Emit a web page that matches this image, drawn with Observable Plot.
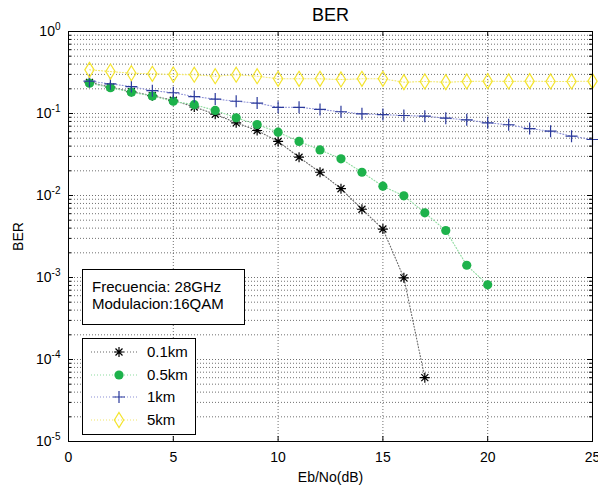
<!DOCTYPE html>
<html><head><meta charset="utf-8">
<script src="https://cdn.jsdelivr.net/npm/d3@7"></script>
<script src="https://cdn.jsdelivr.net/npm/@observablehq/plot@0.6"></script>
<style>
body{margin:0;background:#fff;font-family:"Liberation Sans",Arial,sans-serif;}
#wrap{position:relative;width:598px;height:485px;overflow:hidden;}
#wrap svg.plot{position:absolute;left:0;top:0;}
.box{position:absolute;background:#fff;border:1px solid #000;box-sizing:border-box;font-size:15px;color:#000;}
.row{position:absolute;left:0;height:20px;}
.row svg{position:absolute;left:0;top:0;}
.row span{position:absolute;left:64px;top:1px;white-space:nowrap;line-height:18px;}
.info span{position:absolute;left:9px;white-space:nowrap;line-height:18px;}
</style></head><body><div id="wrap"></div>
<script>
const title = "BER";
const xLabel = "Eb/No(dB)";
const yLabel = "BER";
const infoLines = ["Frecuencia: 28GHz", "Modulacion:16QAM"];

const seriesNames = ["0.1km", "0.5km", "1km", "5km"];
const markerColors = ["#000000", "#1db24b", "#2b3a9c", "#f4e42c"];
const lineColors = ["#666666", "#8edb9f", "#8c90d6", "#f1e66a"];

const ebnoBlack = [1,2,3,4,5,6,7,8,9,10,11,12,13,14,15,16,17];
const berBlack = [0.24,0.21,0.185,0.165,0.145,0.12,0.098,0.077,0.062,0.0456,0.0293,0.0192,0.0121,0.0068,0.0039,0.00099,0.00006];

const ebnoGreen = [1,2,3,4,5,6,7,8,9,10,11,12,13,14,15,16,17,18,19,20];
const berGreen = [0.234,0.206,0.182,0.163,0.141,0.128,0.109,0.0886,0.0734,0.0592,0.0456,0.036,0.028,0.0192,0.013,0.0099,0.00615,0.00374,0.00141,0.000814];

const ebnoBlue = [1,2,3,4,5,6,7,8,9,10,11,12,13,14,15,16,17,18,19,20,21,22,23,24,25];
const berBlue = [0.248,0.23,0.213,0.19,0.179,0.161,0.15,0.141,0.134,0.119,0.119,0.112,0.105,0.099,0.097,0.0945,0.0928,0.0877,0.0837,0.077,0.0729,0.0654,0.0608,0.0529,0.0482];

const ebnoYellow = [1,2,3,4,5,6,7,8,9,10,11,12,13,14,15,16,17,18,19,20,21,22,23,24,25];
const berYellow = [0.341,0.325,0.31,0.305,0.299,0.297,0.285,0.297,0.285,0.265,0.265,0.265,0.26,0.265,0.265,0.241,0.246,0.241,0.246,0.248,0.246,0.248,0.246,0.246,0.248];

const xTicks = [0, 5, 10, 15, 20, 25];
const xGridTicks = [5, 10, 15, 20];
const yTicks = [1e-5, 1e-4, 1e-3, 1e-2, 1e-1, 1];
const yTickLabels = ["10^-5", "10^-4", "10^-3", "10^-2", "10^-1", "10^0"];

// minor log grid values (2..9 within each decade)
const yMinor = [];
for (let i = 0; i < yTicks.length - 1; i++) for (let m = 2; m <= 9; m++) yMinor.push(yTicks[i] * m);

// custom symbols
const symAsterisk = {draw(c, size) {
  const r = Math.sqrt(size / Math.PI), d = r * 0.7;
  c.moveTo(-r, 0); c.lineTo(r, 0); c.moveTo(0, -r); c.lineTo(0, r);
  c.moveTo(-d, -d); c.lineTo(d, d); c.moveTo(-d, d); c.lineTo(d, -d);
}};
const symCircle = {draw(c, size) { const r = Math.sqrt(size / Math.PI); c.moveTo(r, 0); c.arc(0, 0, r, 0, 2 * Math.PI); }};
const symPlus = {draw(c, size) {
  const r = Math.sqrt(size / Math.PI);
  c.moveTo(-r, 0); c.lineTo(r, 0); c.moveTo(0, -r); c.lineTo(0, r);
}};
const symDiamond = {draw(c, size) {
  const r = Math.sqrt(size / Math.PI), w = r * 0.62;
  c.moveTo(0, -r); c.lineTo(w, 0); c.lineTo(0, r); c.lineTo(-w, 0); c.closePath();
}};
const symbols = [symAsterisk, symCircle, symPlus, symDiamond];
const radii = [5, 4.6, 6, 7.5];
const filled = [false, true, false, false];

const seriesX = [ebnoBlack, ebnoGreen, ebnoBlue, ebnoYellow];
const seriesY = [berBlack, berGreen, berBlue, berYellow];
const rows = seriesNames.map((name, i) => seriesX[i].map((x, j) => ({series: name, x, y: seriesY[i][j]})));

const W = 598, H = 485, mL = 68, mR = 6, mT = 31, mB = 44;
const innerW = W - mL - mR, innerH = H - mT - mB;

const marks = [
  Plot.gridY({ticks: yMinor.concat(yTicks.slice(1, -1)), stroke: "#333", strokeOpacity: 0.7, strokeDasharray: "1,2"}),
  Plot.gridX({ticks: xGridTicks, stroke: "#333", strokeOpacity: 0.7, strokeDasharray: "1,2"}),
];
seriesNames.forEach((name, i) => {
  marks.push(Plot.line(rows[i], {x: "x", y: "y", stroke: lineColors[i], strokeWidth: 1.1, strokeDasharray: "1,2"}));
});
seriesNames.forEach((name, i) => {
  marks.push(Plot.dot(rows[i], {x: "x", y: "y", symbol: symbols[i], r: radii[i],
    fill: filled[i] ? markerColors[i] : "none", stroke: filled[i] ? "none" : markerColors[i], strokeWidth: 1.2}));
});
marks.push(
  Plot.frame({stroke: "#000", strokeWidth: 1}),
  // inward ticks (MATLAB style)
  Plot.tickX(xTicks, {x: d => d, insetTop: innerH - 5, stroke: "#000"}),
  Plot.tickX(xTicks, {x: d => d, insetBottom: innerH - 5, stroke: "#000"}),
  Plot.tickY(yTicks, {y: d => d, insetRight: innerW - 5, stroke: "#000"}),
  Plot.tickY(yTicks, {y: d => d, insetLeft: innerW - 5, stroke: "#000"}),
  Plot.tickY(yMinor, {y: d => d, insetRight: innerW - 3, stroke: "#000"}),
  Plot.tickY(yMinor, {y: d => d, insetLeft: innerW - 3, stroke: "#000"}),
  Plot.axisX(xTicks, {tickSize: 0, tickPadding: 11, fontSize: 14, label: xLabel, labelAnchor: "center", labelArrow: "none", labelOffset: 40}),
  Plot.axisY(yTicks, {tickSize: 0, tickPadding: 8, fontSize: 14, tickFormat: (d, i) => yTickLabels[yTicks.indexOf(d)], label: yLabel, labelAnchor: "center", labelArrow: "none", labelOffset: 55}),
  Plot.text([title], {frameAnchor: "top", dy: -11, lineAnchor: "bottom", fontSize: 18})
);

const chart = Plot.plot({
  width: W, height: H,
  marginLeft: mL, marginRight: mR, marginTop: mT, marginBottom: mB,
  x: {domain: [0, 25]},
  y: {type: "log", domain: [1e-5, 1]},
  style: {fontFamily: "Liberation Sans, Arial, sans-serif", fontSize: "15px", background: "#fff", color: "#000"},
  marks
});
chart.classList.add("plot");

// superscript exponents on y tick labels
d3.select(chart).selectAll('g[aria-label="y-axis tick label"] text').each(function() {
  const s = this.textContent;
  const parts = s.split("^");
  const t = d3.select(this);
  t.text(null);
  t.append("tspan").text(parts[0]);
  t.append("tspan").attr("dy", "-0.6em").attr("font-size", "10px").text(parts[1]);
});

const wrap = document.getElementById("wrap");
wrap.appendChild(chart);

// info box
const info = document.createElement("div");
info.className = "box info";
Object.assign(info.style, {left: "82px", top: "269px", width: "163px", height: "56px"});
infoLines.forEach((t, i) => {
  const s = document.createElement("span");
  s.textContent = t;
  s.style.top = (8 + i * 16.7) + "px";
  info.appendChild(s);
});
wrap.appendChild(info);

// legend box
const leg = document.createElement("div");
leg.className = "box";
Object.assign(leg.style, {left: "82px", top: "338px", width: "114px", height: "97px"});
seriesNames.forEach((name, i) => {
  const row = document.createElement("div");
  row.className = "row";
  row.style.top = (3 + i * 22.7) + "px";
  row.style.width = "112px";
  const svg = d3.create("svg").attr("width", 60).attr("height", 20);
  svg.append("line").attr("x1", 8).attr("x2", 56).attr("y1", 10).attr("y2", 10)
    .attr("stroke", lineColors[i]).attr("stroke-width", 1.1).attr("stroke-dasharray", "1,2");
  const p = d3.path();
  symbols[i].draw(p, radii[i] * radii[i] * Math.PI);
  svg.append("path").attr("d", p.toString()).attr("transform", "translate(36,10)")
    .attr("fill", filled[i] ? markerColors[i] : "none")
    .attr("stroke", filled[i] ? "none" : markerColors[i]).attr("stroke-width", 1.2);
  row.appendChild(svg.node());
  const s = document.createElement("span");
  s.textContent = name;
  row.appendChild(s);
  leg.appendChild(row);
});
wrap.appendChild(leg);
</script></body></html>
